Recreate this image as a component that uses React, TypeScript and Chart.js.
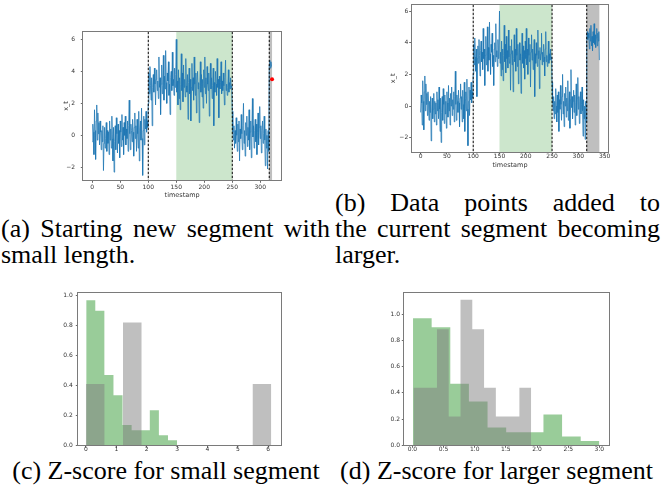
import React, { useEffect, useRef } from 'react';
import { Chart, registerables } from 'chart.js';

Chart.register(...registerables);
Chart.defaults.font.family = "'DejaVu Sans', sans-serif";

// ---------------- DATA ----------------
// time series x_t, segment 1: t = 0..99
const seg1 = [
  -0.4, 0.7, 0.2, -1.2, 1.6, 0.3, -1.5, 0.9, 1.9, -0.3,
  1.4, 0.1, 0.8, -0.6, 0.9, 0.2, -0.9, 0.3, -0.4, 0.6,
  -2.2, -0.5, 0.5, -0.8, -0.2, 0.8, -1.0, 0.3, -0.5, 0.2,
  -1.2, 0.9, -0.3, 0.4, -0.8, 1.2, -0.2, -1.6, 0.5, -2.3,
  -0.4, 0.6, -0.9, 1.1, 0.1, -1.1, 0.7, -0.5, 0.3, -1.4,
  0.9, 0.2, -0.7, 1.3, -0.3, 0.5, -1.2, 0.8, 0.0, 1.2,
  -0.6, 0.4, -0.2, 0.9, -1.0, 0.6, 2.2, 0.1, -0.9, 0.7,
  0.3, -0.4, 1.0, 0.2, -1.3, 0.5, 1.4, -0.2, 0.6, -1.0,
  1.0, 0.1, -0.8, 1.5, -1.6, 0.4, 0.9, -0.3, 1.7, -0.2,
  -2.5, 0.3, 1.2, -0.6, 1.0, 0.4, 1.5, 0.2, 0.9, 0.5,
];
// segment 2: t = 100..249
const seg2 = [
  2.0, 3.9, 2.6, 4.3, 3.1, 2.2, 3.6, 0.6, 3.0, 3.8,
  2.7, 4.2, 3.2, 1.9, 3.5, 4.1, 2.8, 3.4, 2.3, 4.9,
  3.0, 3.6, 1.3, 3.2, 4.4, 2.6, 3.1, 5.0, 2.2, 3.7,
  2.9, 5.3, 3.3, 2.0, 3.9, 3.4, 4.6, 2.5, 3.2, 1.3,
  3.6, 4.0, 2.8, 5.2, 3.1, 3.5, 2.5, 4.2, 3.0, 3.8,
  6.0, 2.7, 3.4, 1.9, 4.1, 2.3, 3.6, 1.6, 3.2, 5.1,
  2.8, 3.9, 2.1, 4.4, 3.0, 3.5, 2.4, 4.8, 3.1, 2.7,
  3.8, 1.0, 3.3, 4.2, 2.6, 3.5, 0.9, 3.0, 4.5, 2.8,
  3.6, 2.2, 4.9, 3.2, 2.5, 3.9, 1.4, 3.4, 4.0, 2.9,
  3.3, 0.8, 3.1, 4.6, 2.7, 3.8, 2.4, 3.5, 1.7, 4.1,
  3.0, 4.9, 2.6, 3.6, 2.0, 4.3, 3.2, 2.8, 3.9, 1.2,
  3.4, 4.5, 2.9, 3.6, 2.3, 3.1, 4.2, 0.6, 3.3, 2.7,
  4.0, 3.2, 2.5, 4.8, 3.0, 3.5, 1.1, 3.7, 2.9, 3.3,
  4.6, 2.6, 3.4, 2.8, 3.9, 3.1, 1.9, 3.6, 4.7, 2.8,
  3.2, 2.5, 3.0, 4.1, 2.7, 3.3, 2.9, 3.6, 3.0, 3.1,
];
// segment 3: t = 250..315
const seg3 = [
  1.5, 0.2, -0.3, 0.6, -0.8, 0.3, -0.5, 1.1, 0.0, -1.0,
  0.7, -0.4, 0.9, -1.6, 0.4, -0.2, 1.3, 0.1, -0.9, 0.6,
  2.0, -0.5, 0.3, -1.3, 0.8, 0.0, 1.2, -0.7, 0.5, -0.3,
  1.6, -0.9, 0.2, 0.9, -1.4, 0.4, 2.3, -0.1, 0.6, -0.8,
  0.3, 1.0, -0.4, 0.7, -1.2, 0.2, 1.4, -0.6, 0.5, 1.8,
  -0.2, 0.6, -1.1, 0.3, 0.9, -0.5, 0.1, 1.2, -0.3, -1.9,
  0.4, -0.8, 0.0, -2.1, 0.3, -1.0,
];
// segment 4: t = 316..340
const seg4 = [
  4.4, 4.7, 4.2, 4.6, 4.3, 3.6, 4.9, 4.1, 5.1, 3.8,
  4.4, 3.5, 4.7, 4.0, 5.2, 3.9, 4.5, 3.7, 4.3, 4.9,
  3.8, 4.6, 4.1, 4.7, 2.9,
];
const seriesB = [...seg1, ...seg2, ...seg3, ...seg4]; // t = 0..340
const seriesA = seriesB.slice(0, 321); // t = 0..320
const newPointA = { t: 321, v: 3.5 };

const changePointsA = [100, 250, 316];
const changePointsB = [100, 250, 316];
const greenSpan = [150, 250];
const graySpanA = [316, 321];
const graySpanB = [316, 340];

const tsTicksA = [0, 50, 100, 150, 200, 250, 300];
const tsTicksB = [0, 50, 100, 150, 200, 250, 300, 350];
const valueTicks = [-2, 0, 2, 4, 6];

// histograms (density) of z-scores
const greenEdges = [0.01, 0.309, 0.608, 0.907, 1.206, 1.505, 1.804, 2.103, 2.402, 2.701, 3.0];
const greenHeights = [0.97, 0.9, 0.47, 0.335, 0.135, 0.1, 0.1, 0.235, 0.067, 0.033];
const grayEdgesC = [0.0, 0.61, 1.22, 1.83, 2.44, 3.05, 3.66, 4.27, 4.88, 5.49, 6.1];
const grayHeightsC = [0.41, 0, 0.82, 0, 0, 0, 0, 0, 0, 0.41];
const grayEdgesD = [0.016, 0.205, 0.394, 0.583, 0.772, 0.961, 1.15, 1.339, 1.528, 1.717, 1.906];
const grayHeightsD = [0.44, 0.44, 0.885, 0.22, 1.11, 0.885, 0.44, 0.22, 0.22, 0.44];

const histTicksC = [0, 1, 2, 3, 4, 5, 6];
const histTicksD = [0, 0.5, 1, 1.5, 2, 2.5, 3];
const densityTicks = [0, 0.2, 0.4, 0.6, 0.8, 1.0];

// ---------------- STYLE / LAYOUT ----------------
const BLUE = '#1f77b4';
const GREEN_SPAN = 'rgba(0,128,0,0.2)';
const GRAY_SPAN = 'rgba(128,128,128,0.5)';
const GREEN_HIST = 'rgba(0,128,0,0.4)';
const GRAY_HIST = 'rgba(128,128,128,0.5)';
const TEXT = '#333';
const FRAME = '#7a7a7a';
const TITLE_FONT = 6.5;

type Spec = {
  canvas: { x: number; y: number; w: number; h: number };
  plot: { l: number; t: number; r: number; b: number };
  yTitleX?: number;
  xTitleY?: number;
  yGap: number;
  xLabelOffset: number;
  tickFont: number;
};

const specA: Spec = {
  canvas: { x: 40, y: 15, w: 250, h: 190 },
  plot: { l: 83.3, t: 31.7, r: 281, b: 180.3 },
  yTitleX: 66, xTitleY: 195, yGap: 8.3, xLabelOffset: 7.4, tickFont: 6,
};
const specB: Spec = {
  canvas: { x: 370, y: 0, w: 250, h: 175 },
  plot: { l: 411.7, t: 4.7, r: 608.3, b: 152 },
  yTitleX: 393.3, xTitleY: 165.7, yGap: 3.5, xLabelOffset: 4.5, tickFont: 6,
};
const specC: Spec = {
  canvas: { x: 40, y: 285, w: 250, h: 170 },
  plot: { l: 78.3, t: 293, r: 281, b: 445.3 },
  yGap: 5.6, xLabelOffset: 4, tickFont: 6,
};
const specD: Spec = {
  canvas: { x: 360, y: 285, w: 260, h: 170 },
  plot: { l: 404.3, t: 293, r: 609, b: 445.3 },
  yGap: 4.3, xLabelOffset: 4, tickFont: 6,
};

const minusFmt = (v: number) => (v < 0 ? '\u2212' + Math.abs(v) : String(v));
const fixed1 = (v: number) => v.toFixed(1);

function decorPlugin(spans: { from: number; to: number; color: string }[], vlines: number[]) {
  return {
    id: 'decor',
    beforeDatasetsDraw(chart: any) {
      const { ctx, chartArea: a } = chart;
      const x = chart.scales.x;
      ctx.save();
      for (const s of spans) {
        const x0 = x.getPixelForValue(s.from);
        const x1 = x.getPixelForValue(s.to);
        ctx.fillStyle = s.color;
        ctx.fillRect(x0, a.top, x1 - x0, a.bottom - a.top);
      }
      ctx.restore();
    },
    afterDatasetsDraw(chart: any) {
      const { ctx, chartArea: a } = chart;
      const x = chart.scales.x;
      ctx.save();
      ctx.strokeStyle = '#000';
      ctx.lineWidth = 1;
      ctx.setLineDash([2.5, 1.5]);
      for (const v of vlines) {
        const px = x.getPixelForValue(v);
        ctx.beginPath();
        ctx.moveTo(px, a.top);
        ctx.lineTo(px, a.bottom);
        ctx.stroke();
      }
      ctx.restore();
    },
    afterDraw(chart: any) {
      const { ctx, chartArea: a } = chart;
      ctx.save();
      ctx.strokeStyle = FRAME;
      ctx.lineWidth = 1;
      ctx.strokeRect(Math.round(a.left) - 0.5, Math.round(a.top) - 0.5,
        Math.round(a.right) - Math.round(a.left) + 1, Math.round(a.bottom) - Math.round(a.top) + 1);
      ctx.restore();
    },
  };
}

function buildScales(spec: Spec, xr: [number, number], yr: [number, number], xTicks: number[], yTicks: number[],
  fx: (v: number) => string, fy: (v: number) => string, xTitle?: string, yTitle?: string) {
  const tl = 2.5;
  const tlh = TITLE_FONT * 1.2;
  const lh = spec.tickFont * 1.2;
  const padLeft = spec.yTitleX !== undefined ? spec.yTitleX - tlh / 2 - spec.canvas.x : 0;
  const yw = spec.plot.l - spec.canvas.x - padLeft;
  const xh = spec.xTitleY !== undefined ? spec.xTitleY + tlh / 2 - spec.plot.b : spec.canvas.y + spec.canvas.h - spec.plot.b;
  const padBottom = spec.canvas.y + spec.canvas.h - spec.plot.b - xh;
  const padding = {
    left: padLeft,
    top: spec.plot.t - spec.canvas.y,
    right: spec.canvas.x + spec.canvas.w - spec.plot.r,
    bottom: padBottom,
  };
  const grid = { display: true, drawOnChartArea: false, drawTicks: true, tickLength: tl, color: '#444', lineWidth: 0.8 };
  const scales = {
    x: {
      type: 'linear',
      min: xr[0], max: xr[1],
      afterBuildTicks: (s: any) => { s.ticks = xTicks.map((v) => ({ value: v })); },
      afterFit: (s: any) => { s.height = xh; },
      ticks: { color: TEXT, font: { size: spec.tickFont }, maxRotation: 0, minRotation: 0, autoSkip: false,
        padding: spec.xLabelOffset - tl - lh / 2, callback: (v: any) => fx(Number(v)) },
      grid,
      border: { display: false },
      title: { display: !!xTitle, text: xTitle || '', color: TEXT, font: { size: TITLE_FONT }, padding: 0 },
    },
    y: {
      type: 'linear',
      min: yr[0], max: yr[1],
      afterBuildTicks: (s: any) => { s.ticks = yTicks.map((v) => ({ value: v })); },
      afterFit: (s: any) => { s.width = yw; },
      ticks: { color: TEXT, font: { size: spec.tickFont }, autoSkip: false, padding: spec.yGap - tl,
        callback: (v: any) => fy(Number(v)) },
      grid,
      border: { display: false },
      title: { display: !!yTitle, text: yTitle || '', color: TEXT, font: { size: TITLE_FONT }, padding: 0 },
    },
  };
  return { scales, padding };
}

function seriesConfig(spec: Spec, series: number[], xr: [number, number], yr: [number, number], xTicks: number[],
  vlines: number[], grayBand: number[], newPoint?: { t: number; v: number }) {
  const { scales, padding } = buildScales(spec, xr, yr, xTicks, valueTicks, minusFmt, minusFmt, 'timestamp', 'x_t');
  const datasets: any[] = [];
  if (newPoint) {
    datasets.push({ data: [{ x: newPoint.t, y: newPoint.v }], showLine: false, pointRadius: 2, pointBackgroundColor: 'red',
      pointBorderWidth: 0, borderColor: 'red' });
  }
  datasets.push({ data: series.map((v, i) => ({ x: i, y: v })), borderColor: BLUE, borderWidth: 0.8, pointRadius: 0, tension: 0 });
  return {
    type: 'line',
    data: { datasets },
    options: {
      animation: false, responsive: false, events: [],
      layout: { padding },
      plugins: { legend: { display: false }, tooltip: { enabled: false } },
      scales,
    },
    plugins: [decorPlugin([
      { from: greenSpan[0], to: greenSpan[1], color: GREEN_SPAN },
      { from: grayBand[0], to: grayBand[1], color: GRAY_SPAN },
    ], vlines)],
  };
}

function stepPoints(edges: number[], heights: number[]) {
  const pts = heights.map((h, i) => ({ x: edges[i], y: h }));
  pts.push({ x: edges[edges.length - 1], y: heights[heights.length - 1] });
  return pts;
}

function histConfig(spec: Spec, xr: [number, number], yr: [number, number], xTicks: number[],
  grayEdges: number[], grayHeights: number[], fx: (v: number) => string) {
  const { scales, padding } = buildScales(spec, xr, yr, xTicks, densityTicks, fx, fixed1);
  const mk = (edges: number[], heights: number[], color: string) => ({
    data: stepPoints(edges, heights), stepped: true, fill: 'origin', backgroundColor: color,
    borderColor: 'rgba(0,0,0,0)', borderWidth: 0, pointRadius: 0,
  });
  return {
    type: 'line',
    data: { datasets: [mk(grayEdges, grayHeights, GRAY_HIST), mk(greenEdges, greenHeights, GREEN_HIST)] },
    options: {
      animation: false, responsive: false, events: [],
      layout: { padding },
      plugins: { legend: { display: false }, tooltip: { enabled: false } },
      scales,
    },
    plugins: [decorPlugin([], [])],
  };
}

function ChartBox({ spec, config }: { spec: Spec; config: any }) {
  const ref = useRef<HTMLCanvasElement>(null);
  useEffect(() => {
    if (!ref.current) return;
    const chart = new Chart(ref.current, config);
    return () => chart.destroy();
  }, []);
  return (
    <canvas ref={ref} width={spec.canvas.w} height={spec.canvas.h}
      style={{ position: 'absolute', left: spec.canvas.x, top: spec.canvas.y, width: spec.canvas.w, height: spec.canvas.h }} />
  );
}

const capBase: React.CSSProperties = {
  position: 'absolute',
  fontFamily: '"Liberation Serif", "DejaVu Serif", serif',
  fontSize: 26,
  lineHeight: '26px',
  color: '#000',
};
const justified: React.CSSProperties = { textAlign: 'justify', textAlignLast: 'justify' as any };

export default function App() {
  const cfgA = seriesConfig(specA, seriesA, [-16, 337], [-2.81, 6.48], tsTicksA, changePointsA, graySpanA, newPointA);
  const cfgB = seriesConfig(specB, seriesB, [-17, 357], [-2.9, 6.4], tsTicksB, changePointsB, graySpanB);
  const cfgC = histConfig(specC, [-0.25, 6.42], [0, 1.018], histTicksC, grayEdgesC, grayHeightsC, (v) => String(v));
  const cfgD = histConfig(specD, [-0.13, 3.155], [0, 1.162], histTicksD, grayEdgesD, grayHeightsD, fixed1);
  const Ta = 216, Tb = 190, Tc = 457.5;
  return (
    <div style={{ position: 'absolute', left: 0, top: 0, width: 662, height: 504, background: '#fff', overflow: 'hidden' }}>
      <ChartBox spec={specA} config={cfgA} />
      <ChartBox spec={specB} config={cfgB} />
      <ChartBox spec={specC} config={cfgC} />
      <ChartBox spec={specD} config={cfgD} />
      <div style={{ ...capBase, ...justified, left: 1, top: Ta, width: 329 }}>(a) Starting new segment with</div>
      <div style={{ ...capBase, left: 1, top: Ta + 26, whiteSpace: 'nowrap' }}>small length.</div>
      <div style={{ ...capBase, ...justified, left: 335, top: Tb, width: 325 }}>(b) Data points added to</div>
      <div style={{ ...capBase, ...justified, left: 335, top: Tb + 26, width: 325 }}>the current segment becoming</div>
      <div style={{ ...capBase, left: 335, top: Tb + 52, whiteSpace: 'nowrap' }}>larger.</div>
      <div style={{ ...capBase, left: 0, top: Tc, width: 332, textAlign: 'center', whiteSpace: 'nowrap' }}>(c) Z-score for small segment</div>
      <div style={{ ...capBase, left: 333, top: Tc, width: 327, textAlign: 'center', whiteSpace: 'nowrap' }}>(d) Z-score for larger segment</div>
    </div>
  );
}
